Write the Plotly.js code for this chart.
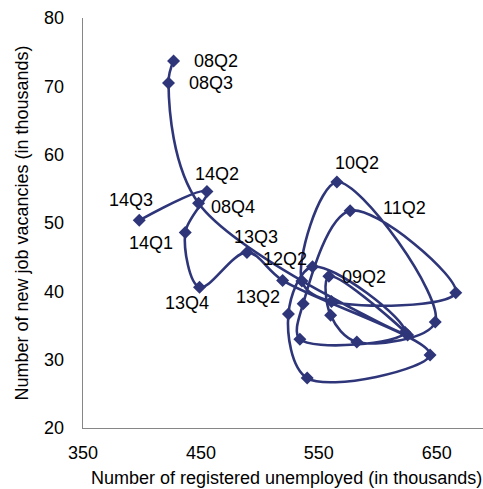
<!DOCTYPE html>
<html>
<head>
<meta charset="utf-8">
<script src="https://cdn.plot.ly/plotly-3.0.1.min.js"></script>
<style>html,body{margin:0;padding:0;background:#fff;}#chart{width:483px;height:489px;}</style>
</head>
<body>
<div id="chart"></div>
<script>
// Quarters in chronological order
var quarters = ["08Q2","08Q3","08Q4","09Q1","09Q2","09Q3","09Q4","10Q1","10Q2","10Q3","10Q4",
                "11Q1","11Q2","11Q3","11Q4","12Q1","12Q2","12Q3","12Q4","13Q1","13Q2","13Q3","13Q4",
                "14Q1","14Q2","14Q3"];
// Number of registered unemployed (thousands)
var unemployed = [426.8,422.5,448.0,625.3,558.5,560.0,582.2,648.7,565.3,535.6,560.7,
                  666.1,576.5,536.7,533.9,623.0,544.6,524.2,540.1,644.3,519.3,489.0,448.8,
                  436.7,455.1,397.7];
// Number of new job vacancies (thousands)
var vacancies = [73.7,70.5,52.9,33.6,42.2,36.5,32.6,35.5,56.0,41.5,38.5,
                 39.8,51.8,38.2,33.0,34.0,43.6,36.7,27.3,30.7,41.6,45.7,40.6,
                 48.6,54.6,50.4];
// Labelled quarters
var labelled = ["08Q2","08Q3","08Q4","09Q2","10Q2","11Q2","12Q2","13Q2","13Q3","13Q4","14Q1","14Q2","14Q3"];
var labelShift = {
  "08Q2":[42,0],"08Q3":[42,0],"08Q4":[34,-4],"09Q2":[35,-1],"10Q2":[20,19],"11Q2":[54,3],
  "12Q2":[-27,8],"13Q2":[-25,-17],"13Q3":[9,15],"13Q4":[-13,-16],"14Q1":[-34,-10],
  "14Q2":[10,18],"14Q3":[-8,20]
};

var col = "#2E3679";
var fam = "Liberation Sans, Arial, sans-serif";
var font = {family: fam, size: 18, color: "#000"};

var trace = {
  x: unemployed, y: vacancies, text: quarters, type: "scatter", mode: "lines+markers",
  line: {color: col, width: 2.6, shape: "spline", smoothing: 1},
  marker: {symbol: "diamond", size: 10, color: col},
  hoverinfo: "text+x+y"
};

var annotations = labelled.map(function(q){
  var i = quarters.indexOf(q);
  return {x: unemployed[i], y: vacancies[i], xref: "x", yref: "y", text: q, showarrow: false,
          xshift: labelShift[q][0], yshift: labelShift[q][1], font: font};
});
annotations.push({
  xref: "paper", yref: "paper", x: 0.509, y: 0, xanchor: "center", yanchor: "top",
  yshift: -38, showarrow: false, font: font,
  text: "Number of registered unemployed (in thousands)"
});

var layout = {
  width: 483, height: 489,
  margin: {l: 83, r: 0, t: 18, b: 61},
  paper_bgcolor: "#fff", plot_bgcolor: "#fff",
  showlegend: false,
  font: font,
  xaxis: {
    range: [350, 689.2], dtick: 100, tick0: 350, showgrid: false, zeroline: false,
    showline: true, linecolor: "#868686", linewidth: 1.3, ticks: "", ticklabelstandoff: 8,
    tickfont: font
  },
  yaxis: {
    range: [20, 80], dtick: 10, showgrid: false, zeroline: false,
    showline: true, linecolor: "#868686", linewidth: 1.3, ticks: "", ticklabelstandoff: 14,
    tickfont: font,
    title: {text: "Number of new job vacancies (in thousands)", font: font, standoff: 10}
  },
  annotations: annotations
};

Plotly.newPlot("chart", [trace], layout, {displayModeBar: false, staticPlot: true});
</script>
</body>
</html>
